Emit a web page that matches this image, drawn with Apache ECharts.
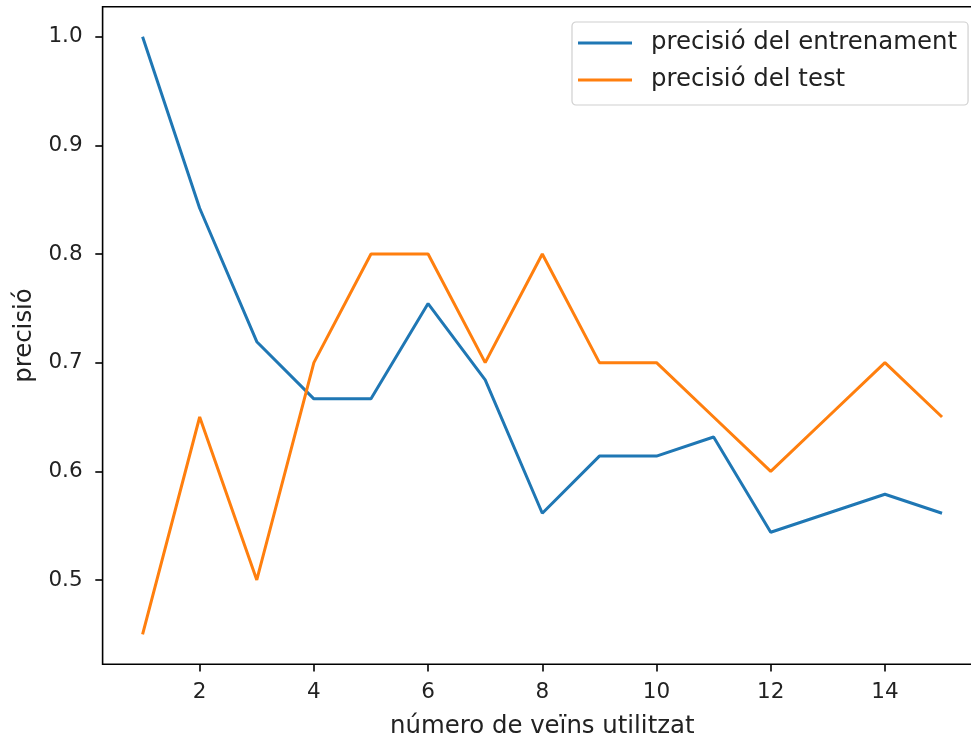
<!DOCTYPE html>
<html>
<head>
<meta charset="utf-8">
<script src="https://cdn.jsdelivr.net/npm/echarts@6/dist/echarts.min.js"></script>
<style>
  html, body { margin: 0; padding: 0; background: #fff; overflow: hidden; }
  /* the plot frame runs a little past the right edge of the window */
  #chart { width: 1000px; height: 738px; }
</style>
</head>
<body>
<div id="chart"></div>
<script>
// number of neighbours used (k)
const neighbours = [1, 2, 3, 4, 5, 6, 7, 8, 9, 10, 11, 12, 13, 14, 15];
// accuracy on the training set
const trainAccuracy = [1.0, 0.8421, 0.7193, 0.6667, 0.6667, 0.7544, 0.6842, 0.5614, 0.6140, 0.6140, 0.6316, 0.5439, 0.5614, 0.5789, 0.5614];
// accuracy on the test set
const testAccuracy = [0.45, 0.65, 0.5, 0.7, 0.8, 0.8, 0.7, 0.8, 0.7, 0.7, 0.65, 0.6, 0.65, 0.7, 0.65];
// tick positions
const xTicks = [2, 4, 6, 8, 10, 12, 14];
const yTicks = [0.5, 0.6, 0.7, 0.8, 0.9, 1.0];

const seriesNames = ['precisió del entrenament', 'precisió del test'];
const FONT = 'DejaVu Sans';
const TXT = '#222';
const TICK_FS = 21.5;
const LABEL_FS = 24.4;

const chart = echarts.init(document.getElementById('chart'), null, { renderer: 'canvas' });

chart.setOption({
  animation: false,
  backgroundColor: '#fff',
  textStyle: { fontFamily: FONT },
  grid: {
    left: 102.6,
    top: 6.8,
    width: 879.4,
    height: 657.4,
    outerBoundsMode: 'none',
    containLabel: false,
    show: true,
    borderColor: '#000',
    borderWidth: 1.6,
    backgroundColor: 'transparent'
  },
  xAxis: {
    type: 'value',
    min: 0.3,
    max: 15.7,
    name: 'número de veïns utilitzat',
    nameLocation: 'middle',
    nameGap: 50,
    nameTextStyle: { fontFamily: FONT, fontSize: LABEL_FS, color: TXT },
    splitLine: { show: false },
    axisLine: { show: false },
    axisTick: {
      show: true, inside: false, length: 7.3,
      customValues: xTicks,
      lineStyle: { color: '#000', width: 1.6 }
    },
    axisLabel: {
      customValues: xTicks,
      margin: 17,
      fontFamily: FONT, fontSize: TICK_FS, color: TXT
    }
  },
  yAxis: {
    type: 'value',
    min: 0.4225,
    max: 1.0275,
    name: 'precisió',
    nameLocation: 'middle',
    nameGap: 66,
    nameRotate: 90,
    nameTextStyle: { fontFamily: FONT, fontSize: LABEL_FS, color: TXT },
    splitLine: { show: false },
    axisLine: { show: false },
    axisTick: {
      show: true, inside: false, length: 7.3,
      customValues: yTicks,
      lineStyle: { color: '#000', width: 1.6 }
    },
    axisLabel: {
      customValues: yTicks,
      margin: 20,
      formatter: v => v.toFixed(1),
      fontFamily: FONT, fontSize: TICK_FS, color: TXT
    }
  },
  legend: {
    orient: 'vertical',
    left: 572,
    top: 22,
    padding: [7, 11, 11, 6],
    itemGap: 9,
    itemWidth: 54,
    itemHeight: 3,
    icon: 'rect',
    backgroundColor: 'rgba(255,255,255,0.8)',
    borderColor: '#d0d0d0',
    borderWidth: 1.2,
    borderRadius: 4,
    textStyle: { fontFamily: FONT, fontSize: LABEL_FS, color: TXT, lineHeight: 28, padding: [0, 0, 0, 14] },
    data: seriesNames
  },
  series: [
    {
      name: seriesNames[0],
      type: 'line',
      symbol: 'none',
      color: '#1f77b4',
      lineStyle: { width: 3, color: '#1f77b4' },
      data: neighbours.map((k, i) => [k, trainAccuracy[i]])
    },
    {
      name: seriesNames[1],
      type: 'line',
      symbol: 'none',
      color: '#ff7f0e',
      lineStyle: { width: 3, color: '#ff7f0e' },
      data: neighbours.map((k, i) => [k, testAccuracy[i]])
    }
  ]
});
</script>
</body>
</html>
